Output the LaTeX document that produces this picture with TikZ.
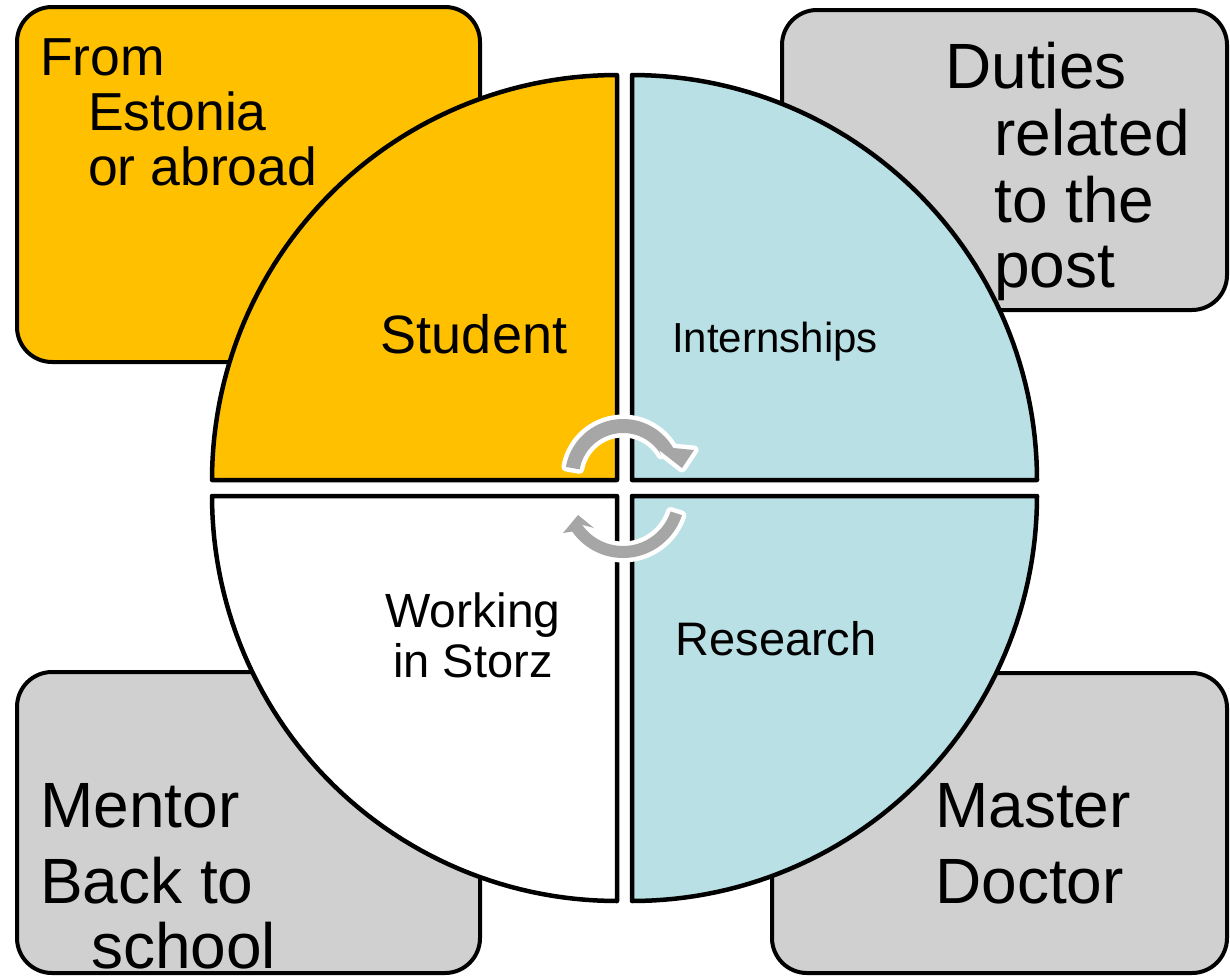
\documentclass[tikz,border=0pt]{standalone}
\usepackage{fontspec}
\setmainfont{Liberation Sans}
\definecolor{stuorange}{HTML}{FFC000}
\definecolor{quadblue}{HTML}{B9E0E5}
\definecolor{boxgray}{HTML}{D0D0D0}
\definecolor{arrowgray}{HTML}{A6A6A6}
\tikzset{
  box/.style={draw=black, line width=4pt, rounded corners=35pt},
  quad/.style={draw=black, line width=4.5pt, line join=round},
  cyc/.style={fill=arrowgray, preaction={draw=white, line width=9pt, line join=round}},
  txt/.style={inner sep=0pt, anchor=base west},
  lbl/.style={inner sep=0pt, anchor=base}
}
\newcommand{\setfs}[1]{\fontsize{#1}{#1}\selectfont}

\begin{document}
\begin{tikzpicture}[x=1pt,y=-1pt]
\useasboundingbox (0,0) rectangle (1230,977);
% corner boxes
\draw[box, fill=stuorange] (17,7) rectangle (480,362);
\draw[box, fill=boxgray] (782,10) rectangle (1227,310);
\draw[box, fill=boxgray] (17,672) rectangle (480,973);
\draw[box, fill=boxgray] (772,673) rectangle (1227,973);
% quarters of the circle
\draw[quad, fill=stuorange] (617,480) -- plot[domain=180:270, samples=60] ({617+405*cos(\x)},{480+405*sin(\x)}) -- cycle;
\draw[quad, fill=quadblue] (632,480) -- plot[domain=270:360, samples=60] ({632+405*cos(\x)},{480+405*sin(\x)}) -- cycle;
\draw[quad, fill=quadblue] (632,496) -- plot[domain=0:90, samples=60] ({632+405*cos(\x)},{496+405*sin(\x)}) -- cycle;
\draw[quad, fill=white] (617,496) -- plot[domain=90:180, samples=60] ({617+405*cos(\x)},{496+405*sin(\x)}) -- cycle;
% cycle arrows
\fill[cyc] plot[domain=190:330, samples=40] ({623+58*cos(\x)},{477+58*sin(\x)})
  -- (694,450) -- (682,468) -- (659,450)
  -- plot[domain=330:190, samples=40] ({623+44*cos(\x)},{477+44*sin(\x)}) -- cycle;
\fill[cyc] plot[domain=18:145, samples=40] ({623+62*cos(\x)},{496+62*sin(\x)})
  -- (563,533) -- (578,515) -- (594,528)
  -- plot[domain=145:18, samples=40] ({623+50*cos(\x)},{496+50*sin(\x)}) -- cycle;
% labels in the circle
\node[lbl, font=\setfs{54}] (student) at (474,353) {Student};
\node[lbl, font=\setfs{42}] (intern) at (775,352) {Internships};
\node[lbl, font=\setfs{48}] (work1) at (473,627) {Working};
\node[lbl, font=\setfs{47}] (work2) at (473,677) {in Storz};
\node[lbl, font=\setfs{47}] (research) at (776,655) {Research};
% texts in the boxes
\node[txt, font=\setfs{53.5}] (from1) at (40,75) {From};
\node[txt, font=\setfs{53.5}] (from2) at (88,130) {Estonia};
\node[txt, font=\setfs{53.5}] (from3) at (88,185) {or abroad};
\node[txt, font=\setfs{64}] (duty1) at (945,88) {Duties};
\node[txt, font=\setfs{64}] (duty2) at (994,155) {related};
\node[txt, font=\setfs{64}] (duty3) at (994,222) {to the};
\node[txt, font=\setfs{64}] (duty4) at (994,287) {post};
\node[txt, font=\setfs{64}] (mentor1) at (40,827) {Mentor};
\node[txt, font=\setfs{64}] (mentor2) at (40,903) {Back to};
\node[txt, font=\setfs{64}] (mentor3) at (91,968) {school};
\node[txt, font=\setfs{64}] (degree1) at (935,827) {Master};
\node[txt, font=\setfs{64}] (degree2) at (935,903) {Doctor};
\end{tikzpicture}
\end{document}
